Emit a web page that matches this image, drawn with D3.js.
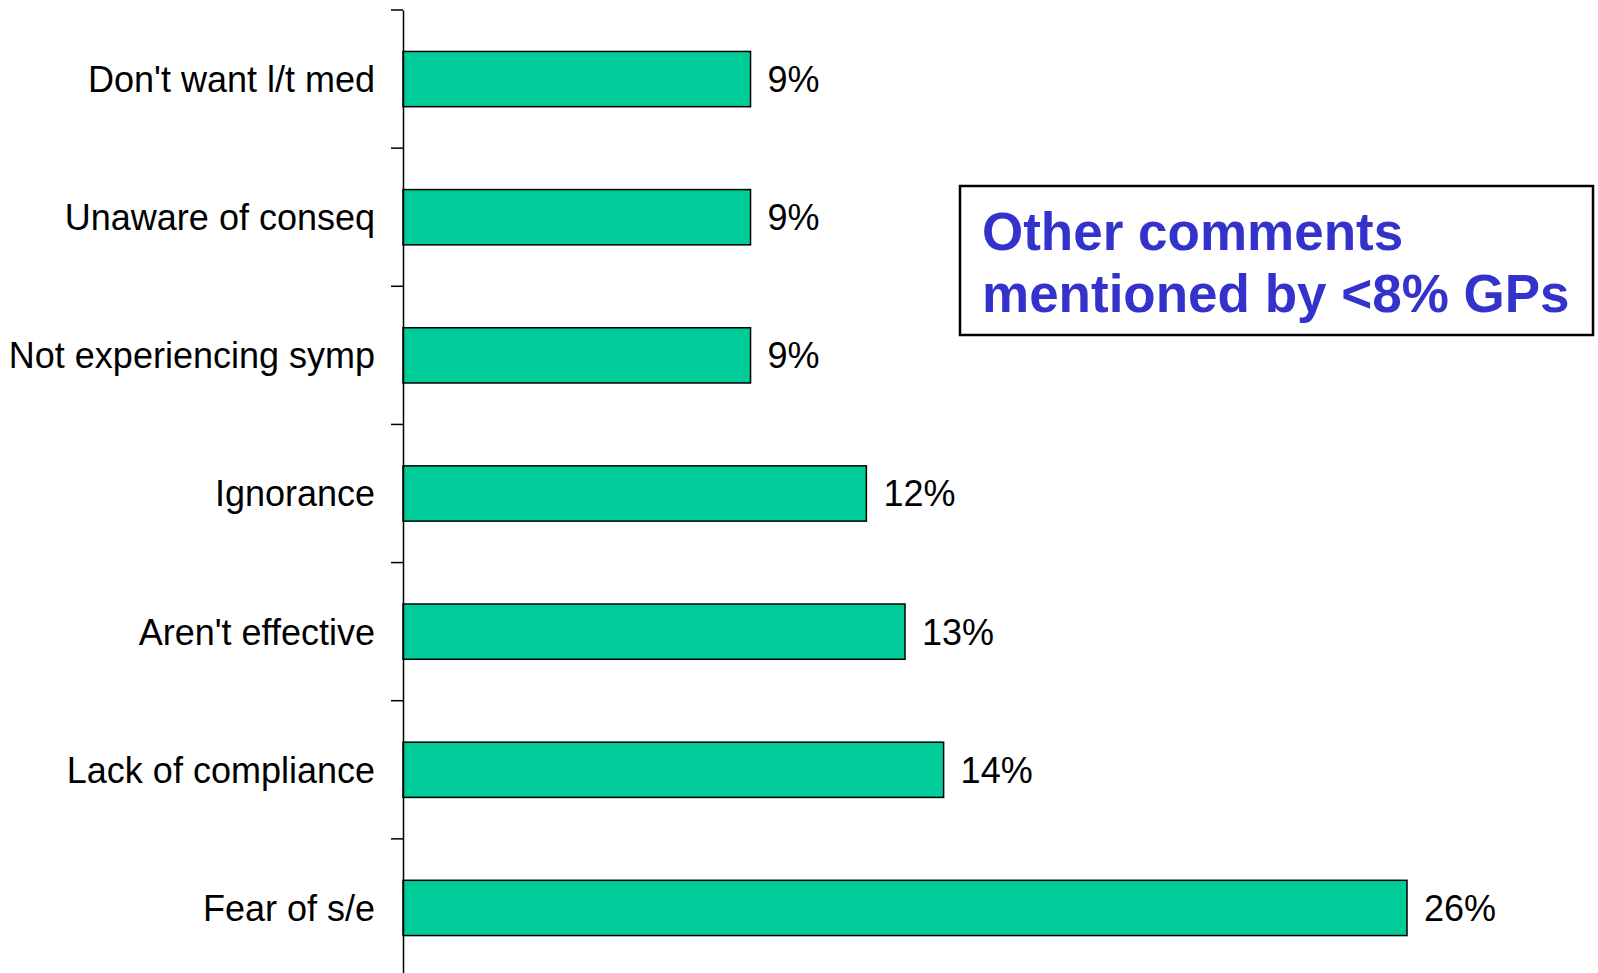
<!DOCTYPE html>
<html>
<head>
<meta charset="utf-8">
<script src="https://cdn.jsdelivr.net/npm/d3@7"></script>
<style>
  body { margin: 0; background: #fff; }
  svg { display: block; font-family: "Liberation Sans", Arial, sans-serif; }
</style>
</head>
<body>
<svg id="chart" width="1598" height="973"></svg>
<script>
// reasons given by GPs, top to bottom
var categories = ["Don't want l/t med", "Unaware of conseq", "Not experiencing symp",
                  "Ignorance", "Aren't effective", "Lack of compliance", "Fear of s/e"];
var values = [9, 9, 9, 12, 13, 14, 26];
var noteLines = ["Other comments", "mentioned by <8% GPs"];

var svg = d3.select("#chart");

var x = d3.scaleLinear().domain([0, 26]).range([403, 1407]);
var y = d3.scaleBand().domain(categories).range([10, 977]).paddingInner(0.6).paddingOuter(0.3);

// bars
svg.append("g").selectAll("rect")
  .data(values)
  .enter().append("rect")
  .attr("x", x(0))
  .attr("y", function(d, i) { return y(categories[i]); })
  .attr("width", function(d) { return x(d) - x(0); })
  .attr("height", y.bandwidth())
  .attr("fill", "#00CC99")
  .attr("stroke", "#000")
  .attr("stroke-width", 1.5);

// value labels
svg.append("g").selectAll("text")
  .data(values)
  .enter().append("text")
  .attr("x", function(d) { return x(d) + 17; })
  .attr("y", function(d, i) { return y(categories[i]) + y.bandwidth() / 2; })
  .attr("dy", "0.36em")
  .attr("font-size", 36)
  .text(function(d) { return d + "%"; });

// category axis
var yAxis = d3.axisLeft(y).tickSize(0).tickPadding(28);
var ax = svg.append("g").attr("transform", "translate(" + x(0) + ",0)").call(yAxis);
ax.select(".domain").attr("stroke", "#000").attr("stroke-width", 1.5);
ax.selectAll("text").attr("font-size", 36).attr("fill", "#000").attr("dy", "0.36em")
  .attr("font-family", "Liberation Sans, Arial, sans-serif");

// tick marks between categories
var step = y.step();
var bounds = d3.range(categories.length).map(function(i) { return 10 + i * step; });
svg.append("g").selectAll("line")
  .data(bounds)
  .enter().append("line")
  .attr("x1", x(0) - 12).attr("x2", x(0))
  .attr("y1", function(d) { return d; }).attr("y2", function(d) { return d; })
  .attr("stroke", "#000").attr("stroke-width", 1.5);

// note box
svg.append("rect")
  .attr("x", 960).attr("y", 186).attr("width", 633).attr("height", 149)
  .attr("fill", "#fff").attr("stroke", "#000").attr("stroke-width", 2.5);

svg.append("g").selectAll("text")
  .data(noteLines)
  .enter().append("text")
  .attr("x", 982)
  .attr("y", function(d, i) { return 250 + i * 62; })
  .attr("font-size", 53)
  .attr("font-weight", "bold")
  .attr("fill", "#3333CC")
  .text(function(d) { return d; });
</script>
</body>
</html>
